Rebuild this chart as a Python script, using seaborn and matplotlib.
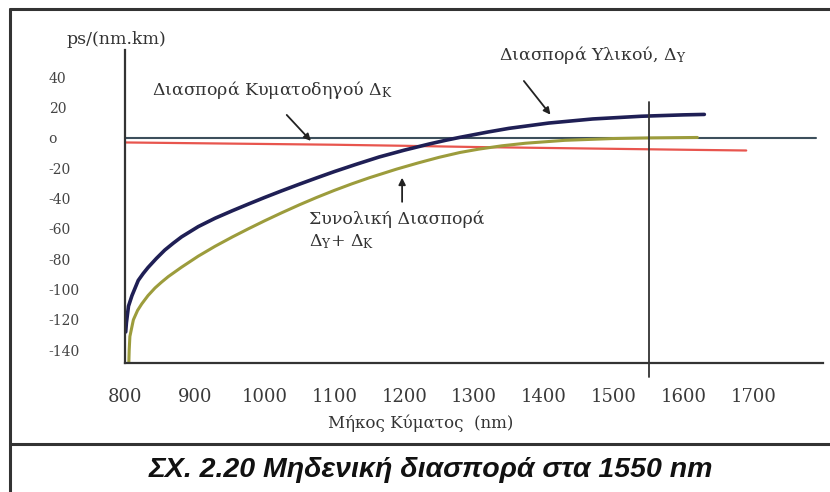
import pandas as pd
import numpy as np
import seaborn as sns
import matplotlib.pyplot as plt
from matplotlib.lines import Line2D

# material dispersion (D_Y)
wl_mat = [801, 802, 805, 810, 819, 826, 833, 845, 857, 869, 881, 905, 929, 954, 977,
          1000, 1024, 1050, 1075, 1100, 1130, 1164, 1200, 1236, 1260, 1279, 1320,
          1350, 1407, 1470, 1540, 1600, 1630]
d_mat = [-128, -122, -111, -104, -94, -89.5, -85.5, -79.5, -74, -69.5, -65.3, -58.5,
         -53, -48, -43.6, -39.3, -35, -30.5, -26.3, -22.2, -17.6, -12.6, -8.1, -4,
         -1.5, 0.3, 3.9, 6.3, 9.8, 12.5, 14.3, 15.2, 15.5]

# total dispersion (D_Y + D_K)
wl_tot = [805.5, 806, 807, 812, 818, 824, 833, 843, 852, 862, 881, 905, 929, 954,
          977, 1000, 1024, 1050, 1075, 1100, 1125, 1150, 1189, 1220, 1250, 1280,
          1307, 1340, 1374, 1430, 1500, 1550, 1620]
d_tot = [-148, -140, -131, -120, -113.8, -109.5, -104, -99, -95.3, -91.5, -85.3, -78,
         -71.5, -65.3, -59.9, -54.7, -49.5, -44.1, -39.2, -34.6, -30.3, -26.3, -20.6,
         -16.5, -12.8, -9.6, -7.4, -5.2, -3.5, -1.6, -0.4, 0, 0.3]

# waveguide dispersion (D_K)
wl_wg = [800, 900, 1000, 1100, 1200, 1300, 1400, 1500, 1600, 1690]
d_wg = [-3, -3.5, -4, -4.5, -5.2, -6, -6.6, -7.2, -7.8, -8.3]

# zero reference line
wl_zero = [800, 1790]
d_zero = [0, 0]

x_ticks = [800, 900, 1000, 1100, 1200, 1300, 1400, 1500, 1600, 1700, 1800]
x_labels = ['800', '900', '1000', '1100', '1200', '1300', '1400', '1500', '1600', '1700', '']
y_ticks = [-140, -120, -100, -80, -60, -40, -20, 0, 20, 40]
y_labels = ['-140', '-120', '-100', '-80', '-60', '-40', '-20', 'o', '20', '40']

sns.set_style("white")
plt.rcParams['font.family'] = ['DejaVu Serif']
plt.rcParams['mathtext.fontset'] = 'dejavuserif'

fig = plt.figure(figsize=(8.3, 4.92), dpi=100)
ax = fig.add_axes([125 / 830, 1 - 363 / 492, (823 - 125) / 830, (363 - 50) / 492])

sns.lineplot(x=wl_zero, y=d_zero, ax=ax, color='#3d4f5c', lw=1.5, sort=False)
sns.lineplot(x=wl_wg, y=d_wg, ax=ax, color='#e8554e', lw=1.6)
sns.lineplot(x=wl_tot, y=d_tot, ax=ax, color='#9c9c3c', lw=2.2)
sns.lineplot(x=wl_mat, y=d_mat, ax=ax, color='#1f1f55', lw=2.6)

# 1550 nm marker
ax.plot([1550, 1550], [-158, 24], color='#333333', lw=1.3, clip_on=False)

ax.set_xlim(800, 1800)
ax.set_ylim(-148.5, 58)
ax.set_xticks(x_ticks)
ax.set_xticklabels(x_labels, fontsize=13, color='#3a3a3a')
ax.set_yticks(y_ticks)
ax.set_yticklabels(y_labels, fontsize=10, color='#444444')
for lab in ax.get_yticklabels():
    lab.set_ha('left')
ax.tick_params(axis='x', direction='out', length=10, width=1.5, pad=8, color='#333333')
ax.tick_params(axis='y', direction='out', length=11, width=1.5, pad=44, color='#333333')
sns.despine(ax=ax)
for s in ['left', 'bottom']:
    ax.spines[s].set_linewidth(1.6)
    ax.spines[s].set_color('#333333')
ax.set_xlabel('Μήκος Κύματος  (nm)', fontsize=12, color='#333333')
ax.xaxis.set_label_coords((421 - 125) / 698, -(423 - 363) / 313)
ax.xaxis.label.set_va('center')
ax.set_ylabel('')

ax.text(788, 64.7, 'ps/(nm.km)', fontsize=12.5, ha='center', va='center',
        color='#333333', clip_on=False)

arrow = dict(arrowstyle='-|>', color='#222222', lw=1.3, mutation_scale=10)
ax.text(1011, 31.7, 'Διασπορά Κυματοδηγού Δ$_\\mathrm{K}$', fontsize=12.5,
        ha='center', va='center', color='#333333')
ax.annotate('', xy=(1069, -3.3), xytext=(1029, 16.5), arrowprops=arrow)
ax.text(1470, 54.8, 'Διασπορά Υλικού, Δ$_\\mathrm{Y}$', fontsize=12.5,
        ha='center', va='center', color='#333333')
ax.annotate('', xy=(1412, 13.9), xytext=(1369, 39), arrowprops=arrow)
ax.text(1063, -61.5, 'Συνολική Διασπορά\nΔ$_\\mathrm{Y}$+ Δ$_\\mathrm{K}$', fontsize=12.5,
        ha='left', va='center', color='#333333', linespacing=1.3)
ax.annotate('', xy=(1197, -24.4), xytext=(1197, -44), arrowprops=arrow)

# outer frame and caption box
frame = dict(color='#333333', lw=2.2, transform=fig.transFigure)
fig.add_artist(Line2D([10 / 830, 1.0], [1 - 9 / 492, 1 - 9 / 492], **frame))
fig.add_artist(Line2D([10 / 830, 10 / 830], [1 - 9 / 492, 0.0], **frame))
fig.add_artist(Line2D([10 / 830, 1.0], [1 - 444 / 492, 1 - 444 / 492], **frame))

fig.text(431 / 830, 1 - 477 / 492, 'ΣΧ. 2.20 Μηδενική διασπορά στα 1550 nm',
         family=['Liberation Sans', 'DejaVu Sans'], fontsize=20.5, fontweight='bold',
         style='italic', ha='center', va='baseline', color='#111111')

fig.savefig('out.png', dpi=100, facecolor='white')
